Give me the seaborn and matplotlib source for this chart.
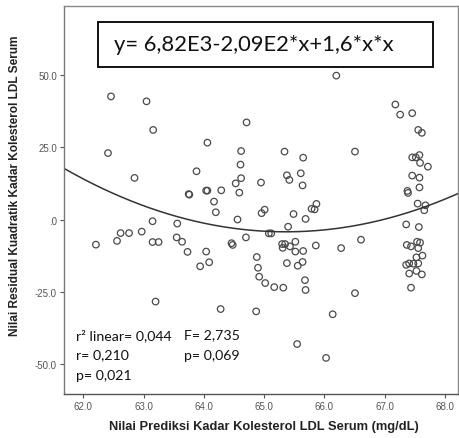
import numpy as np
import pandas as pd
import matplotlib
matplotlib.use("Agg")
import matplotlib.pyplot as plt
from matplotlib.patches import Rectangle
import seaborn as sns

# ---- data (predicted LDL vs quadratic residual) ----
x_pred = [62.46, 63.05, 63.16, 62.41, 62.85, 63.88, 63.75, 63.76, 63.15, 63.56,
          62.62, 62.76, 62.97, 62.56, 62.21, 63.15, 63.25, 63.55, 63.64, 63.73,
          63.94, 63.20,
          64.06, 64.04, 64.06, 64.29, 64.17, 64.20, 64.04, 64.09, 64.46, 64.48,
          64.53, 64.56, 64.59, 64.61, 64.62, 64.62, 64.71, 64.70, 64.88, 64.90,
          64.92, 65.02, 65.17, 65.32, 64.95, 64.96, 65.01, 65.08, 65.12, 64.28,
          64.87, 65.34, 65.38, 65.42, 65.61, 65.64, 65.65, 65.40, 65.49, 65.69,
          65.79, 65.84, 65.87, 65.30, 65.31, 65.35, 65.43, 65.52, 65.52, 65.65,
          65.86, 65.38, 65.56, 65.64, 65.68, 65.69, 65.55, 66.03, 66.14, 66.20,
          66.51, 66.61, 66.28, 66.51,
          67.18, 67.26, 67.46, 67.56, 67.62, 67.46, 67.52, 67.58, 67.59, 67.72,
          67.46, 67.58, 67.38, 67.39, 67.58, 67.55, 67.68, 67.66, 67.36, 67.57,
          67.37, 67.44, 67.54, 67.59, 67.56, 67.53, 67.63, 67.36, 67.41, 67.48,
          67.56, 67.53, 67.41, 67.62, 67.44]
y_resid = [42.6, 40.9, 31.0, 23.0, 14.4, 16.7, 8.8, 8.6, -0.6, -1.4,
           -4.7, -4.7, -4.2, -7.4, -8.7, -7.8, -7.8, -6.2, -7.7, -11.2,
           -16.2, -28.4,
           26.6, 10.0, 10.0, 10.1, 6.2, 2.5, -11.1, -14.8, -8.2, -8.8,
           12.5, 0.0, 9.3, 19.0, 23.7, 14.3, 33.6, -6.2, -13.0, -16.7,
           -19.8, -22.0, -23.4, -23.6, 12.8, 2.2, 3.4, -4.8, -4.8, -31.0,
           -31.8, 23.5, 15.3, 13.7, 16.0, 11.8, 21.4, -2.5, 1.9, 0.2,
           3.7, 3.5, 5.4, -8.5, -9.8, -8.5, -9.3, -7.7, -11.1, -10.9,
           -9.0, -15.1, -16.0, -14.7, -21.0, -24.4, -43.1, -47.9, -32.8, 49.8,
           23.5, -7.0, -9.9, -25.5,
           39.8, 36.3, 36.8, 31.0, 30.0, 21.5, 21.5, 22.3, 19.6, 18.3,
           15.2, 14.5, 9.9, 9.2, 11.1, 5.5, 4.9, 3.2, -1.7, -2.6,
           -8.8, -9.3, -7.7, -8.0, -9.9, -13.1, -12.5, -15.7, -15.2, -15.3,
           -15.2, -17.8, -18.7, -19.0, -23.6]

# quadratic fit coefficients (c0 + c1*x + c2*x^2), matching the drawn curve
quad_coef = [6916.5, -211.77, 1.62]

x_ticks = [62.0, 63.0, 64.0, 65.0, 66.0, 67.0, 68.0]
x_tick_labels = ["62.0", "63.0", "64.0", "65.0", "66.0", "67.0", "68.0"]
y_ticks = [50.0, 25.0, 0.0, -25.0, -50.0]
y_tick_labels = ["50.0", "25.0", ".0", "-25.0", "-50.0"]

equation_text = "y= 6,82E3-2,09E2*x+1,6*x*x"
stats_left = ["r\u00b2 linear= 0,044", "r= 0,210", "p= 0,021"]
stats_right = ["F= 2,735", "p= 0,069"]

xlabel = "Nilai Prediksi Kadar Kolesterol LDL Serum (mg/dL)"
ylabel = "Nilai Residual Kuadratik Kadar Kolesterol LDL Serum"

# ---------------------------------------------------------------------------
sns.set_style("white")
plt.rcParams["font.family"] = ["Liberation Sans", "DejaVu Sans"]

fig = plt.figure(figsize=(4.6, 4.39), dpi=100)
ax = fig.add_axes([64 / 460, 44 / 439, (458 - 64) / 460, (432 - 44) / 439])

df = pd.DataFrame({"x": x_pred, "y": y_resid})
sns.scatterplot(data=df, x="x", y="y", ax=ax, s=22, marker="o",
                facecolor="none", edgecolor="#4a4a4a", linewidth=0.9, legend=False)

xlim = (61.68, 68.22)
ylim = (-60.4, 73.9)
xs = np.linspace(xlim[0], xlim[1], 300)
ys = quad_coef[0] + quad_coef[1] * xs + quad_coef[2] * xs ** 2
sns.lineplot(x=xs, y=ys, ax=ax, color="#333333", linewidth=1.1)

ax.set_xlim(*xlim)
ax.set_ylim(*ylim)
ax.set_xticks(x_ticks)
ax.set_xticklabels(x_tick_labels)
ax.set_yticks(y_ticks)
ax.set_yticklabels(y_tick_labels)
ax.tick_params(axis="both", which="both", direction="out", length=3, width=0.8,
               colors="#555555", labelsize=7, pad=2)
ax.tick_params(left=True, bottom=True)

for side, sp in ax.spines.items():
    sp.set_color("#888888")
    sp.set_linewidth(1.0)
ax.spines["bottom"].set_color("#555555")
ax.spines["left"].set_color("#777777")

ax.set_xlabel(xlabel, fontsize=9.3, fontweight="bold", color="#222222")
ax.set_ylabel(ylabel, fontsize=8.6, fontweight="bold", color="#222222")
ax.xaxis.set_label_coords(0.508, -0.068)
ax.yaxis.set_label_coords(-0.109, 0.539)

# equation box
ax.add_patch(Rectangle((0.0863, 0.8428), 0.9365 - 0.0863, 0.9588 - 0.8428,
                       transform=ax.transAxes, facecolor="white",
                       edgecolor="#111111", linewidth=1.4, zorder=5))
ax.text(0.127, 0.9008, equation_text, transform=ax.transAxes, fontsize=15.8,
        family=["Lato", "DejaVu Sans"], ha="left", va="center", color="#111111",
        zorder=6)

for i, t in enumerate(stats_left):
    ax.text(0.03, 0.153 - i * 0.0515, t, transform=ax.transAxes, fontsize=10.2,
            family=["Lato", "DejaVu Sans"], ha="left", va="center", color="#111111")
for i, t in enumerate(stats_right):
    ax.text(0.305, 0.153 - i * 0.0515, t, transform=ax.transAxes, fontsize=10.2,
            family=["Lato", "DejaVu Sans"], ha="left", va="center", color="#111111")

fig.savefig("out.png", dpi=100, facecolor="white")
